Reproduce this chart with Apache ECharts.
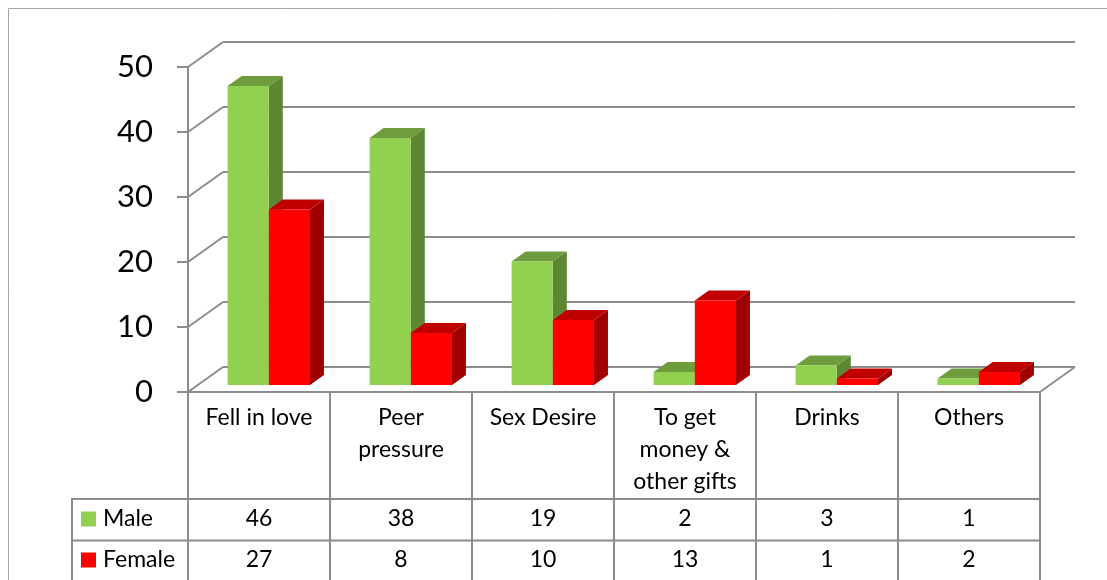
<!DOCTYPE html>
<html>
<head>
<meta charset="utf-8">
<script src="https://cdn.jsdelivr.net/npm/echarts@6/dist/echarts.min.js"></script>
<style>
  html, body { margin: 0; padding: 0; background: #fff; }
  #chart { width: 1107px; height: 580px; }
</style>
</head>
<body>
<div id="chart"></div>
<script>
const categories = ['Fell in love', 'Peer\npressure', 'Sex Desire', 'To get\nmoney &\nother gifts', 'Drinks', 'Others'];
const male = [46, 38, 19, 2, 3, 1];
const female = [27, 8, 10, 13, 1, 2];
const yTicks = [0, 10, 20, 30, 40, 50];

const FONT = 'Lato, "Open Sans", sans-serif';
const LINE = '#8c8c8c';
const DEPTH = [35, -25];   // floor depth in px (x, y)
const BAR_T = 0.28;        // bars' front plane, share of depth
const BAR_D = 0.4;         // bar depth, share of depth
const BAR_W = 0.29;        // one bar's width, share of category
const TABLE_FS = 23;

const palette = {
  Male: { front: '#92D050', top: '#6F9D3D', side: '#5E8733' },
  Female: { front: '#FF0000', top: '#C00000', side: '#A00000' }
};

// one 3D bar plus its value cell in the data table
function barItem(idx, name, rowY) {
  return function (params, api) {
    const i = api.value(0);
    const v = api.value(1);
    const base = api.coord([i, 0]);
    const top = api.coord([i, v]);
    const w = api.size([1, 0])[0] * BAR_W;
    const ox = DEPTH[0] * BAR_T, oy = DEPTH[1] * BAR_T;
    const dx = DEPTH[0] * BAR_D, dy = DEPTH[1] * BAR_D;
    const x0 = base[0] + ox - w + idx * w;
    const x1 = x0 + w;
    const yb = base[1] + oy, yt = top[1] + oy;
    const c = palette[name];
    return {
      type: 'group',
      children: [
        { type: 'polygon', shape: { points: [[x1, yb], [x1 + dx, yb + dy], [x1 + dx, yt + dy], [x1, yt]] }, style: { fill: c.side } },
        { type: 'polygon', shape: { points: [[x0, yt], [x1, yt], [x1 + dx, yt + dy], [x0 + dx, yt + dy]] }, style: { fill: c.top } },
        { type: 'rect', shape: { x: x0, y: yt, width: w, height: yb - yt }, style: { fill: c.front } },
        { type: 'text', x: base[0], y: rowY, style: { text: String(v), font: TABLE_FS + 'px ' + FONT, fill: '#000', align: 'center', verticalAlign: 'middle' } }
      ]
    };
  };
}

// back wall gridline + diagonal to the front axis
function wallItem(params, api) {
  const v = api.value(1);
  const half = api.size([1, 0])[0] / 2;
  const p = api.coord([0, v]);
  const xl = p[0] - half;
  const xr = api.coord([categories.length - 1, v])[0] + half;
  const y = p[1];
  const s = { stroke: LINE, lineWidth: 2 };
  const ch = [
    { type: 'line', shape: { x1: xl, y1: y, x2: xl + DEPTH[0], y2: y + DEPTH[1] }, style: s },
    { type: 'line', shape: { x1: xl + DEPTH[0], y1: y + DEPTH[1], x2: xr + DEPTH[0], y2: y + DEPTH[1] }, style: s }
  ];
  if (v === 0) {
    ch.push({ type: 'line', shape: { x1: xr, y1: y, x2: xr + DEPTH[0], y2: y + DEPTH[1] }, style: s });
  }
  return { type: 'group', children: ch };
}

function legendRow(name, centerY) {
  return {
    data: [name],
    left: 81,
    top: centerY - TABLE_FS / 2,
    padding: 0,
    icon: 'rect',
    itemWidth: 15,
    itemHeight: 15,
    selectedMode: false,
    textStyle: { fontFamily: FONT, fontSize: TABLE_FS, lineHeight: TABLE_FS, color: '#000', padding: [0, 0, 0, 2] }
  };
}

const chart = echarts.init(document.getElementById('chart'));
chart.setOption({
  animation: false,
  backgroundColor: '#fff',
  grid: { left: 188, top: 67, width: 852, height: 325 },
  legend: [legendRow('Male', 519), legendRow('Female', 560)],
  xAxis: {
    type: 'category',
    data: categories,
    axisLine: { lineStyle: { color: LINE, width: 2 } },
    axisTick: { show: true, length: 190, lineStyle: { color: LINE, width: 2 } },
    axisLabel: { interval: 0, margin: 10, fontFamily: FONT, fontSize: TABLE_FS, lineHeight: 32, verticalAlign: 'top', color: '#000' }
  },
  yAxis: {
    type: 'value',
    min: 0,
    max: 50,
    interval: 10,
    axisLine: { show: true, lineStyle: { color: LINE, width: 2 } },
    axisTick: { show: true, length: 11, lineStyle: { color: LINE, width: 2 } },
    axisLabel: { margin: 35, fontFamily: FONT, fontSize: 31, color: '#000' },
    splitLine: { show: false }
  },
  graphic: [
    { type: 'rect', shape: { x: 8.5, y: 8.5, width: 1110, height: 620 }, style: { fill: 'none', stroke: '#a6a6a6', lineWidth: 1 }, silent: true },
    { type: 'line', shape: { x1: 72, y1: 499, x2: 1040, y2: 499 }, style: { stroke: LINE, lineWidth: 2 }, silent: true },
    { type: 'line', shape: { x1: 72, y1: 540.5, x2: 1040, y2: 540.5 }, style: { stroke: LINE, lineWidth: 2 }, silent: true },
    { type: 'line', shape: { x1: 72, y1: 498, x2: 72, y2: 580 }, style: { stroke: LINE, lineWidth: 2 }, silent: true }
  ],
  series: [
    {
      type: 'custom',
      name: 'wall',
      clip: false,
      z: 1,
      silent: true,
      renderItem: wallItem,
      data: yTicks.map(v => [0, v])
    },
    {
      type: 'custom',
      name: 'Male',
      clip: false,
      z: 3,
      itemStyle: { color: palette.Male.front },
      renderItem: barItem(0, 'Male', 519),
      data: male.map((v, i) => [i, v])
    },
    {
      type: 'custom',
      name: 'Female',
      clip: false,
      z: 4,
      itemStyle: { color: palette.Female.front },
      renderItem: barItem(1, 'Female', 560),
      data: female.map((v, i) => [i, v])
    }
  ]
});
</script>
</body>
</html>
